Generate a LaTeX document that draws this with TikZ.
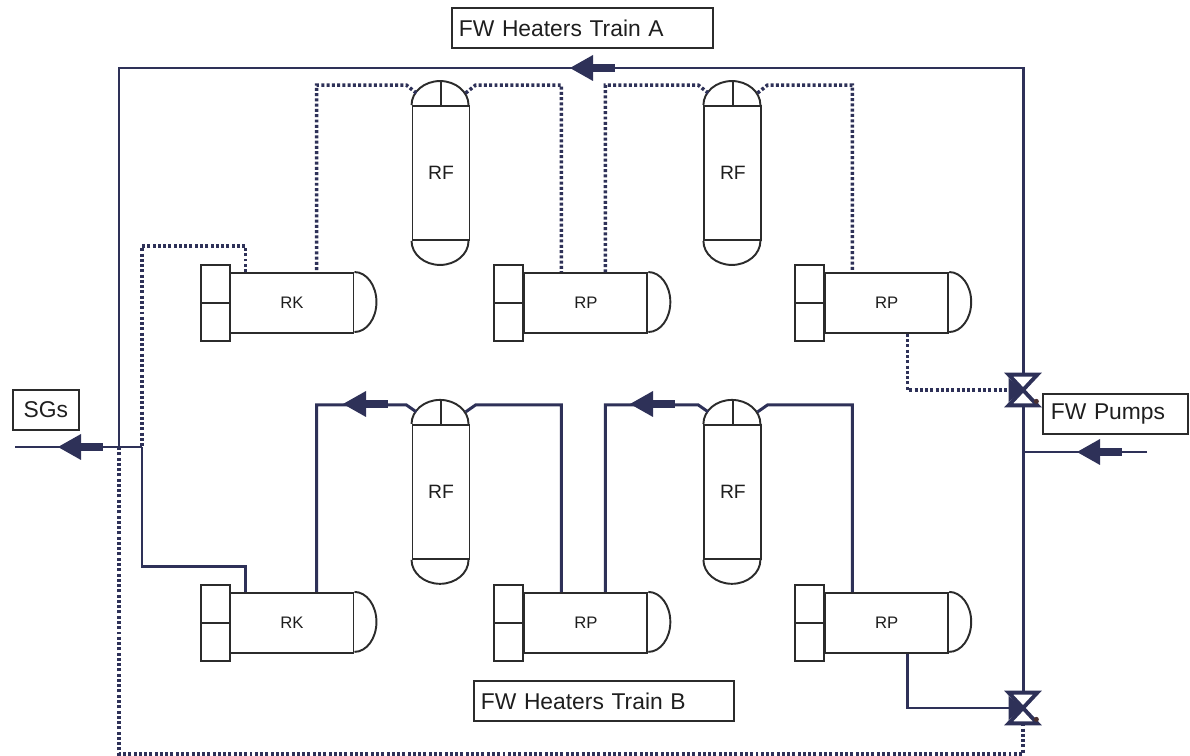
\documentclass[tikz,border=0pt]{standalone}
\usepackage{fontspec}
\setmainfont{Liberation Sans}
\usetikzlibrary{calc,positioning}
\definecolor{pipecol}{HTML}{2E3158}
\definecolor{vesselcol}{HTML}{2B2B2B}
\definecolor{textcol}{HTML}{1E1E1E}
\definecolor{dotcol}{HTML}{4A3030}
\tikzset{
    pipe/.style={draw=pipecol, line width=1.7pt},
    drain/.style={draw=pipecol, line width=2pt, dash pattern=on 1.7pt off 1.3pt},
    vessel/.style={draw=vesselcol, line width=1.1pt},
    heater/.style={vessel, minimum width=2.46cm, minimum height=1.2cm, inner sep=0pt, text=textcol, font=\fontsize{9.5}{10}\selectfont},
    flash/.style={vessel, minimum width=1.14cm, minimum height=2.68cm, inner sep=0pt, text=textcol, font=\fontsize{11}{12}\selectfont},
    tag/.style={draw=vesselcol, line width=1pt, inner xsep=0.14cm, inner ysep=0pt, minimum height=0.8cm, align=left, anchor=north west, text=textcol, font=\fontsize{13}{14}\selectfont},
    valve/.style={minimum width=0.56cm, minimum height=0.6cm, inner sep=0pt},
    flowarr/.pic={
        \draw[pipe, line width=4pt] (18,0) -- (45,0);
        \fill[pipecol] (0,0) -- (23,13) -- (23,-13) -- cycle;
    }
}
\begin{document}
\begin{tikzpicture}[x=0.02cm, y=0.02cm]
\useasboundingbox (0,0) rectangle (1190,-756);

% train A
\node[flash] (rf1) at (441,-173) {RF};
\node[flash, right=4.66cm of rf1] (rf2) {RF};
\node[heater] (rk1) at (292,-303) {RK};
\node[heater, right=3.38cm of rk1] (rp1) {RP};
\node[heater, right=3.52cm of rp1] (rp2) {RP};

% train B
\node[flash, below=3.66cm of rf1] (rf3) {RF};
\node[flash, below=3.66cm of rf2] (rf4) {RF};
\node[heater, below=5.16cm of rk1] (rk2) {RK};
\node[heater, below=5.16cm of rp1] (rp3) {RP};
\node[heater, below=5.16cm of rp2] (rp4) {RP};

% valves
\node[valve] (va) at (1023,-390) {};
\node[valve] (vb) at (1023,-708) {};

\coordinate (hdr) at (119,-68);
\coordinate (sgj) at (142,-447);
\coordinate (sgout) at (15,-447);
\coordinate (pin) at (1147,-452);

% heads and caps
\foreach \v in {rk1,rp1,rp2,rk2,rp3,rp4}{
    \draw[vessel] (\v.north east) arc[start angle=90, end angle=-90, x radius=0.44cm, y radius=0.6cm];
    \draw[vessel] ($(\v.north west)+(-29,7)$) rectangle ($(\v.south west)+(0,-7)$);
    \draw[vessel] (\v.west) -- ++(-29,0);
}
\foreach \v in {rf1,rf2,rf3,rf4}{
    \draw[vessel] (\v.north west) arc[start angle=180, end angle=0, x radius=0.57cm, y radius=0.48cm];
    \draw[vessel] (\v.south west) arc[start angle=180, end angle=360, x radius=0.57cm, y radius=0.48cm];
    \draw[vessel] (\v.north) -- ++(0,24);
    \coordinate (\v-l) at ($(\v.north)+(150:0.57cm and 0.48cm)$);
    \coordinate (\v-r) at ($(\v.north)+(30:0.57cm and 0.48cm)$);
}

% main feedwater lines
\draw[pipe] (va.north) |- (hdr) -- (hdr |- sgj);
\draw[pipe] (va.south) -- (vb.north);
\draw[pipe] (sgj) -- (sgout);
\draw[pipe] (pin) -- (pin -| va);

% train A (dotted)
\draw[drain] (rf1-l) -- ++(-10,8) -| ($(rk1.north west)+(87,0)$);
\draw[drain] (rf1-r) -- ++(10,8) -| ($(rp1.north west)+(38,0)$);
\draw[drain] (rf2-l) -- ++(-10,8) -| ($(rp1.north west)+(82,0)$);
\draw[drain] (rf2-r) -- ++(10,8) -| ($(rp2.north west)+(28,0)$);
\draw[drain] ($(rp2.south west)+(83,0)$) |- (va.west);
\draw[drain] ($(rk1.north west)+(16,0)$) -- ++(0,26) -| (sgj);
\draw[drain] (vb.south) |- ($(hdr |- sgj)+(0,-307)$) -- (hdr |- sgj);

% train B (solid)
\draw[pipe] (sgj) |- ($(rk2.north west)+(16,25)$) -- ++(0,-25);
\draw[pipe] ($(rk2.north west)+(87,0)$) |- ($(rf3-l)+(-10,7)$) -- (rf3-l);
\draw[pipe] (rf3-r) -- ++(10,7) -| ($(rp3.north west)+(38,0)$);
\draw[pipe] (rf4-l) -- ++(-10,7) -| ($(rp3.north west)+(82,0)$);
\draw[pipe] (rf4-r) -- ++(10,7) -| ($(rp4.north west)+(28,0)$);
\draw[pipe] ($(rp4.south west)+(83,0)$) |- (vb.west);

% valve symbols
\foreach \v in {va,vb}{
    \draw[pipe, line width=2.2pt, fill=white, line join=miter] (\v.north west) -- (\v.north east) -- (\v.center) -- cycle;
    \draw[pipe, line width=2.2pt, fill=white, line join=miter] (\v.south west) -- (\v.south east) -- (\v.center) -- cycle;
    \fill[pipecol] ($(\v.west)+(0,12)$) -- (\v.center) -- ($(\v.west)+(0,-12)$) -- cycle;
    \fill[dotcol] ($(\v.south east)+(-1,4)$) circle (2.5);
}

% flow arrows
\pic at (570,-68) {flowarr};
\pic at (58,-447) {flowarr};
\pic at (343,-404) {flowarr};
\pic at (630,-404) {flowarr};
\pic at (1077,-452) {flowarr};

% labels
\node[tag, text width=4.94cm] (trainA) at (451,-7) {FW Heaters Train A};
\node[tag, text width=4.92cm] (trainB) at (473,-680) {FW Heaters Train B};
\node[tag, text width=1.04cm, align=center] (sgs) at (12,-389) {SGs};
\node[tag, text width=2.58cm, inner xsep=0.16cm] (pumps) at (1042,-393) {FW Pumps};
\end{tikzpicture}
\end{document}
